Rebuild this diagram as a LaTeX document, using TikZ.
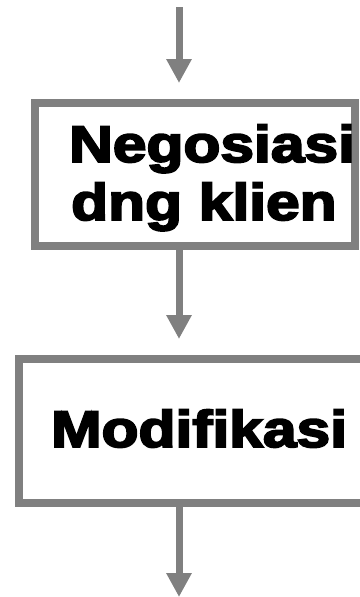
\documentclass[tikz,border=0pt]{standalone}
\usepackage{fontspec}
\newfontfamily\boxfont{Liberation Sans Bold}[FakeBold=3.5]
\usetikzlibrary{arrows.meta,calc}
\definecolor{linegray}{HTML}{808080}
\tikzset{
  flowbox/.style={draw=linegray, line width=8pt, fill=white, rectangle, inner sep=0pt},
  flowarrow/.style={draw=linegray, line width=7pt, -{Triangle[width=24pt,length=24pt]}},
  boxtext/.style={inner sep=0pt, anchor=base west, font=\boxfont\fontsize{51.7}{58}\selectfont}
}
\begin{document}
\begin{tikzpicture}[x=1pt,y=-1pt]
\useasboundingbox (0,0) rectangle (359,597);
\coordinate (start) at (179,7);
\coordinate (finish) at (179,597);
\node[flowbox, minimum width=320pt, minimum height=143pt] (b1) at (195,174.5) {};
\node[flowbox, minimum width=362pt, minimum height=144pt] (b2) at (200,431) {};
\node[boxtext] (t1) at (69,162) {\scalebox{1.17}[1]{Negosiasi}};
\node[boxtext] (t2) at (71,220) {\scalebox{1.17}[1]{dng klien}};
\node[boxtext] (t3) at (51,447) {\scalebox{1.17}[1]{Modifikasi}};
\draw[flowarrow, shorten >=16pt] (start) -- (b1.north -| start);
\draw[flowarrow, shorten >=16pt] (b1.south -| start) -- (b2.north -| start);
\draw[flowarrow] (b2.south -| start) -- (finish);
\end{tikzpicture}
\end{document}
